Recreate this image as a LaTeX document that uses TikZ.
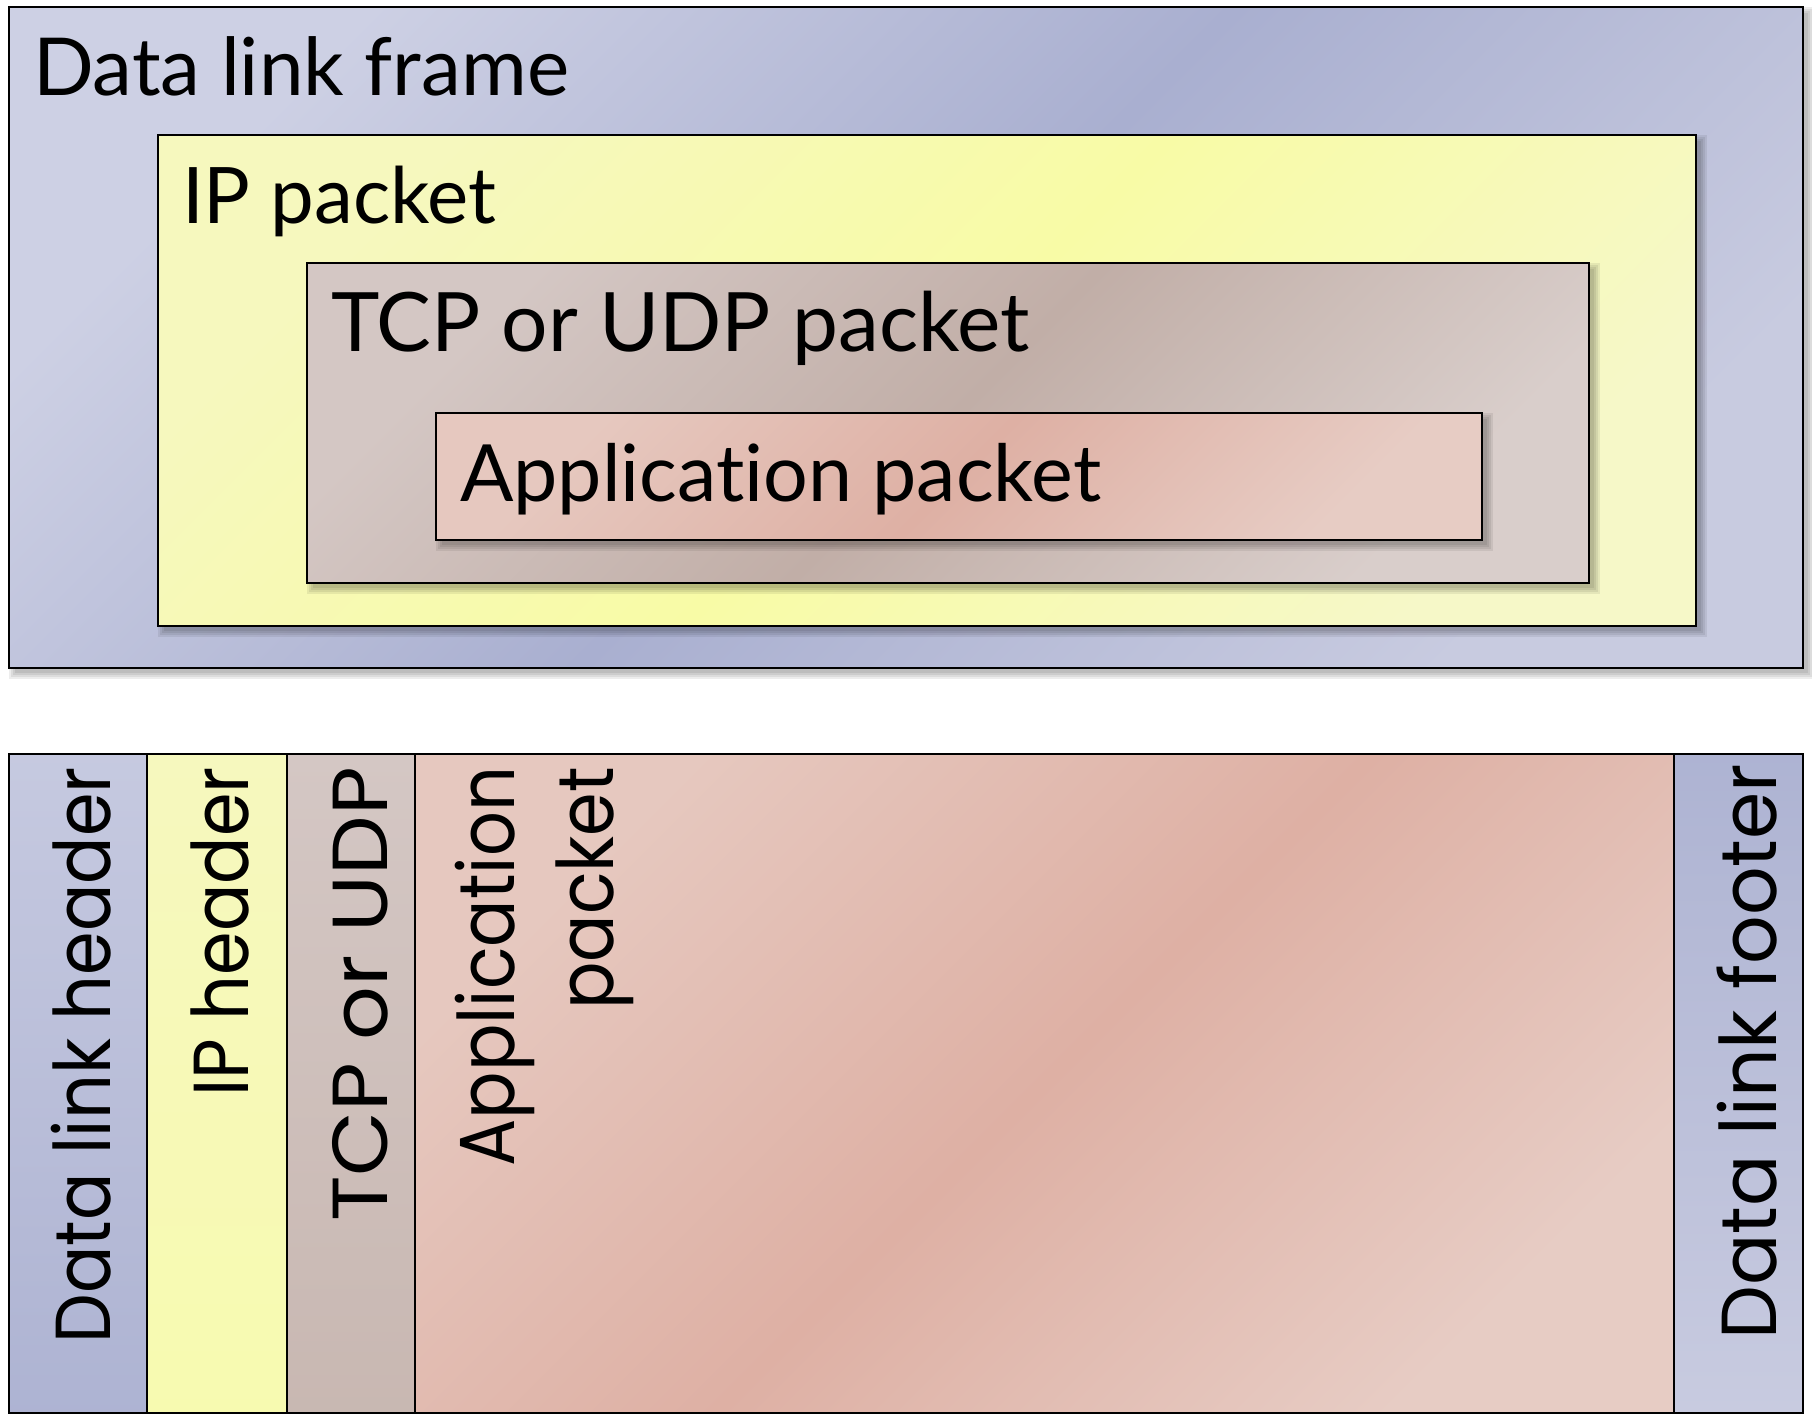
\documentclass[tikz,border=0pt]{standalone}
\usepackage{fontspec}
\setmainfont{Lato}[Ligatures=NoCommon]
\newfontfamily\gothic{Poppins}[FakeStretch=0.9]
\newfontfamily\gothicmid{Poppins}[FakeStretch=0.975]
\newfontfamily\gothicwide{Poppins}[FakeStretch=1.08]
\definecolor{blueA}{HTML}{CDD0E4}
\definecolor{blueB}{HTML}{A9AFD0}
\definecolor{blueC}{HTML}{C8CBE0}
\definecolor{yelA}{HTML}{F6F8BE}
\definecolor{yelB}{HTML}{F8FBA6}
\definecolor{yelC}{HTML}{F6F8C8}
\definecolor{tcpA}{HTML}{D4C7C4}
\definecolor{tcpB}{HTML}{C1AEA7}
\definecolor{tcpC}{HTML}{D9CECB}
\definecolor{appA}{HTML}{E6C8BF}
\definecolor{appB}{HTML}{DEB0A4}
\definecolor{appC}{HTML}{E7CCC4}
\tikzset{
  box/.style={rectangle, draw=black, line width=2.8pt, inner sep=0pt, outer sep=0pt, anchor=north west},
  blueshade/.style={top color=blueA, bottom color=blueC, middle color=blueB, shading angle=45},
  yelshade/.style={top color=yelA, bottom color=yelC, middle color=yelB, shading angle=45},
  tcpshade/.style={top color=tcpA, bottom color=tcpC, middle color=tcpB, shading angle=45},
  appshade/.style={top color=appA, bottom color=appC, middle color=appB, shading angle=45},
  lbl/.style={font=\fontsize{80}{96}\selectfont, inner sep=0pt, outer sep=0pt, anchor=base west},
  vlbl/.style={font=\gothic\fontsize{78}{99}\selectfont, inner sep=0pt, outer sep=0pt, rotate=90, anchor=base east},
}
\newcommand{\softshadow}[4]{%
  \foreach \s in {0,2,4,6}{%
    \fill[black, opacity=0.07] (#1+6-\s,#2+6-\s) rectangle (#3+5+\s,#4+5+\s);
  }%
}
\begin{document}
\begin{tikzpicture}[x=1pt, y=-1pt]
\useasboundingbox[fill=white] (0,0) rectangle (1812,1416);

% top nested boxes
\softshadow{9}{7}{1803}{668}
\node[box, blueshade, minimum width=1794pt, minimum height=661pt] (outer) at (9,7) {};
\softshadow{158}{135}{1696}{626}
\node[box, yelshade, minimum width=1538pt, minimum height=491pt] (ip) at (158,135) {};
\softshadow{307}{263}{1589}{583}
\node[box, tcpshade, minimum width=1282pt, minimum height=320pt] (tcp) at (307,263) {};
\softshadow{436}{413}{1482}{540}
\node[box, appshade, minimum width=1046pt, minimum height=127pt] (app) at (436,413) {};

\node[lbl] (tdl) at (33,95) {Data link frame};
\node[lbl, font=\fontsize{78}{96}\selectfont] (tip) at (182,223) {IP packet};
\node[lbl, font=\fontsize{82}{96}\selectfont] (ttcp) at (331,351) {TCP or UDP packet};
\node[lbl, font=\fontsize{79}{96}\selectfont] (tapp) at (460,501) {Application packet};

% bottom strip
\node[box, top color=blueA!80!blueB, bottom color=blueB!85!blueC, minimum width=138pt, minimum height=659pt] (dlh) at (9,754) {};
\node[box, top color=yelA, bottom color=yelB!70!yelC, minimum width=140pt, minimum height=659pt] (iph) at (147,754) {};
\node[box, top color=tcpA, bottom color=tcpB!70!tcpC, minimum width=128pt, minimum height=659pt] (tcph) at (287,754) {};
\node[box, appshade, minimum width=1259pt, minimum height=659pt] (appd) at (415,754) {};
\node[box, top color=blueB!85!blueC, bottom color=blueC, minimum width=129pt, minimum height=659pt] (dlf) at (1674,754) {};

\node[vlbl] (bdlh) at (110,767) {Data link header};
\node[vlbl] (biph) at (248,767) {IP header};
\node[vlbl, font=\gothicwide\fontsize{78}{99}\selectfont] (btcp) at (387,767) {TCP or UDP};
\node[vlbl, align=right] (bapp) at (613,767) {Application\\packet};
\node[vlbl, font=\gothicmid\fontsize{78}{99}\selectfont] (bdlf) at (1776,764) {Data link footer};
\end{tikzpicture}
\end{document}
